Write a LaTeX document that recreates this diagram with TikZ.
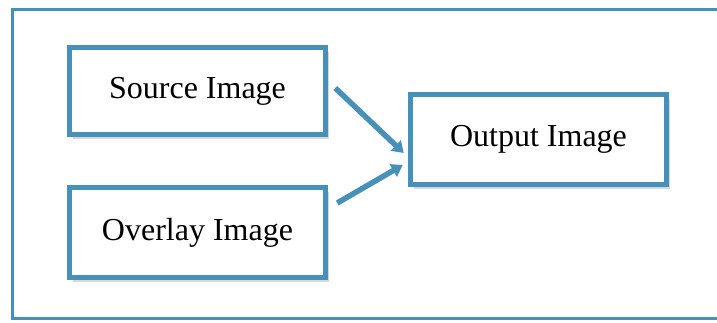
\documentclass[tikz,border=0pt]{standalone}
\usepackage{fontspec}
\setmainfont{Liberation Serif}
\usetikzlibrary{arrows.meta,shadows}
\definecolor{frameblue}{RGB}{70,145,186}
\tikzset{
  imgbox/.style={draw=frameblue, line width=5.5pt, fill=white,
    minimum width=256pt, inner sep=0pt, font=\fontsize{32}{38}\selectfont,
    drop shadow={opacity=0.3, shadow xshift=3pt, shadow yshift=-4.5pt}},
  flow/.style={draw=frameblue, line width=5.5pt,
    -{Triangle[length=11pt,width=14pt]}}
}
\begin{document}
\begin{tikzpicture}[x=1pt,y=-1pt]
  \useasboundingbox (0,0) rectangle (717,322);
  \clip (0,0) rectangle (717,322);
  \fill[white] (0,0) rectangle (717,322);
  % outer frame, open on the right side
  \draw[frameblue, line width=3pt] (725,9.5) -- (12.5,9.5) -- (12.5,318.5) -- (725,318.5);

  % image boxes
  \node[imgbox, minimum height=87pt] (src) at (197.5,91) {Source Image};
  \node[imgbox, minimum height=90pt] (ovl) at (197.5,232.5) {Overlay Image};
  \node[imgbox, minimum height=90pt] (out) at (538.5,139.5) {Output Image};

  % connectors into the output box
  \draw[flow] ([xshift=7pt,yshift=3pt]src.east) -- ([xshift=-4pt,yshift=-13.5pt]out.west);
  \draw[flow] ([xshift=9pt,yshift=29.5pt]ovl.east) -- ([xshift=-5pt,yshift=-25.5pt]out.west);
\end{tikzpicture}
\end{document}
